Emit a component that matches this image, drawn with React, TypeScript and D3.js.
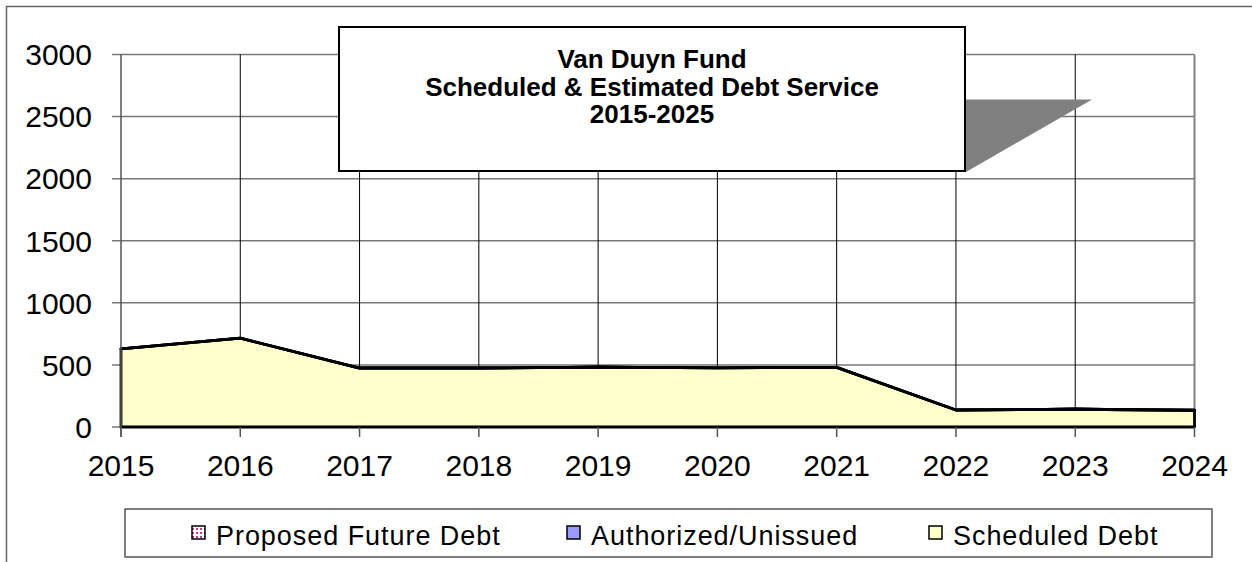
import React from "react";
import * as d3 from "d3";

const years = [2015, 2016, 2017, 2018, 2019, 2020, 2021, 2022, 2023, 2024];
const scheduledDebt = [630, 715, 475, 475, 482, 476, 480, 137, 143, 135];
const authorizedUnissued = [0, 0, 0, 0, 0, 0, 0, 0, 0, 0];
const proposedFutureDebt = [0, 0, 0, 0, 0, 0, 0, 0, 0, 0];
const yTicks = [0, 500, 1000, 1500, 2000, 2500, 3000];
const titleLines = ["Van Duyn Fund", "Scheduled & Estimated Debt Service", "2015-2025"];
const legendItems = [
  { key: "proposed", label: "Proposed Future Debt" },
  { key: "authorized", label: "Authorized/Unissued" },
  { key: "scheduled", label: "Scheduled Debt" },
];

const W = 1252;
const H = 562;
const FONT = "Arial, 'Liberation Sans', sans-serif";

export default function App() {
  const x = d3.scaleLinear().domain([years[0], years[years.length - 1]]).range([121, 1194.5]);
  const y = d3.scaleLinear().domain([0, 3000]).range([427, 54.5]);

  const rows = years.map((yr, i) => ({
    year: yr,
    scheduled: scheduledDebt[i],
    authorized: authorizedUnissued[i],
    proposed: proposedFutureDebt[i],
  }));
  const stack = d3.stack<any>().keys(["scheduled", "authorized", "proposed"]);
  const series = stack(rows);
  const area = d3
    .area<any>()
    .x((d) => x(d.data.year))
    .y0((d) => y(d[0]))
    .y1((d) => y(d[1]));
  const fills: Record<string, string> = {
    scheduled: "#FFFFCC",
    authorized: "#9999FF",
    proposed: "url(#dots)",
  };

  const x0 = x.range()[0];
  const x1 = x.range()[1];
  const yTop = y(3000);
  const yBot = y(0);

  const legendX = [192, 567, 929];

  return (
    <div style={{ position: "fixed", left: 0, top: 0 }}>
      <svg width={W} height={H} style={{ display: "block", background: "#fff" }}>
        <defs>
          <pattern id="dots" width="4" height="4" patternUnits="userSpaceOnUse">
            <rect width="4" height="4" fill="#fff" />
            <rect x="0" y="0" width="2" height="2" fill="#cc3399" />
          </pattern>
        </defs>
        {/* outer chart border */}
        <path d={`M6.5,${H} V6.5 H${W}`} fill="none" stroke="#666" strokeWidth={1.5} />

        {/* horizontal gridlines */}
        {yTicks.map((t) => (
          <line key={"h" + t} x1={x0 - 9} x2={x1} y1={y(t)} y2={y(t)} stroke="#777" strokeWidth={1.5} />
        ))}
        {/* vertical gridlines */}
        {years.map((yr, i) =>
          i > 0 && i < years.length - 1 ? (
            <line key={"v" + yr} x1={x(yr)} x2={x(yr)} y1={yTop} y2={yBot} stroke="#000" strokeWidth={1} />
          ) : null
        )}
        {/* right frame */}
        <line x1={x1} x2={x1} y1={yTop} y2={yBot} stroke="#808080" strokeWidth={2} />

        {/* areas */}
        {series.map((s) => (
          <path key={s.key} d={area(s) || ""} fill={fills[s.key]} stroke="#000" strokeWidth={2.8} strokeLinejoin="round" />
        ))}

        {/* y axis */}
        <line x1={x0} x2={x0} y1={yTop} y2={yBot + 10} stroke="#555" strokeWidth={1.5} />
        {yTicks.map((t) => (
          <text key={"yl" + t} x={92} y={y(t)} dy="0.36em" textAnchor="end" fontFamily={FONT} fontSize={30} fill="#000">
            {t}
          </text>
        ))}
        {/* x ticks */}
        {years.map((yr) => (
          <g key={"xt" + yr}>
            <line x1={x(yr)} x2={x(yr)} y1={yBot} y2={yBot + 10} stroke="#555" strokeWidth={1.5} />
            <text x={x(yr)} y={476} textAnchor="middle" fontFamily={FONT} fontSize={30} fill="#000">
              {yr}
            </text>
          </g>
        ))}

        {/* title box with shadow */}
        <polygon points="965,99.5 1092,99.5 966,172" fill="#808080" />
        <rect x={339} y={27} width={626} height={144} fill="#fff" stroke="#000" strokeWidth={2} />
        {titleLines.map((l, i) => (
          <text key={"t" + i} x={652} y={68 + i * 27.5} textAnchor="middle" fontFamily={FONT} fontWeight="bold" fontSize={26} fill="#000">
            {l}
          </text>
        ))}

        {/* legend */}
        <rect x={125} y={509} width={1087} height={48} fill="#fff" stroke="#000" strokeWidth={1} />
        <path d="M1212,509 V557 H125" fill="none" stroke="#808080" strokeWidth={1.5} />
        {legendItems.map((it, i) => (
          <g key={it.key}>
            <rect x={legendX[i]} y={526} width={13} height={13} fill={fills[it.key]} stroke="#000" strokeWidth={1.5} />
            <text x={legendX[i] + 24} y={545} fontFamily={FONT} fontSize={27} letterSpacing={0.95} fill="#000">
              {it.label}
            </text>
          </g>
        ))}
      </svg>
    </div>
  );
}
